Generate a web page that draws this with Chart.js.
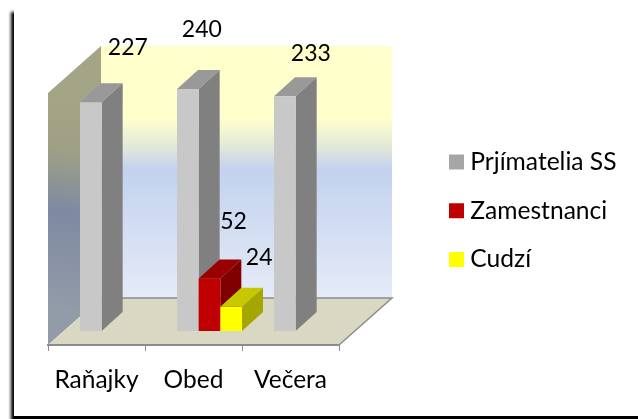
<!DOCTYPE html>
<html>
<head>
<meta charset="utf-8">
<script src="https://cdn.jsdelivr.net/npm/chart.js@4"></script>
<style>
html,body{margin:0;padding:0;background:#fff;width:638px;height:419px;overflow:hidden}
#frame{position:absolute;left:14px;top:6px;width:700px;height:410px;background:#fff;box-shadow:-3px 6px 3px #000}
#wrap{position:absolute;left:0;top:0;width:638px;height:419px}
canvas{display:block}
</style>
</head>
<body>
<div id="frame"></div>
<div id="wrap"><canvas id="c" width="638" height="419"></canvas></div>
<script>
const categories = ['Raňajky', 'Obed', 'Večera'];
const seriesNames = ['Prjímatelia SS', 'Zamestnanci', 'Cudzí'];
const prijimatelia = [227, 240, 233];
const zamestnanci = [null, 52, null];
const cudzi = [null, 24, null];

const frontColors = ['#C8C8C8', '#C00000', '#FFFF00'];
const sideColors = ['#808080', '#7F0000', '#A6A600'];
const topColors = ['#999999', '#990000', '#C8C800'];
const legendColors = ['#A6A6A6', '#C00000', '#FFFF00'];

const FONT = 'Lato, Carlito, sans-serif';
const labelNudges = [[[53, -69], [30, -74], [42, -57]], [null, [40, -71], null], [null, [44, -63], null]];
const wallDepth = [53, -47];
const barShift = [16, -14];
const barDepth = [21, -19];

function poly(ctx, pts, fill) {
  ctx.beginPath();
  pts.forEach((p, i) => i ? ctx.lineTo(p[0], p[1]) : ctx.moveTo(p[0], p[1]));
  ctx.closePath();
  ctx.fillStyle = fill;
  ctx.fill();
}

const scene = {
  id: 'scene',
  beforeDraw(chart) {
    const {ctx, chartArea: a} = chart;
    const [dx, dy] = wallDepth;
    ctx.save();
    const back = ctx.createLinearGradient(0, a.top + dy, 0, a.bottom + dy);
    back.addColorStop(0, '#FFFFCC');
    back.addColorStop(0.29, '#FFFFCC');
    back.addColorStop(0.4, '#E2E8D8');
    back.addColorStop(0.49, '#C2D2EE');
    back.addColorStop(1, '#E5EBF7');
    poly(ctx, [[a.left + dx, a.top + dy], [a.right + dx, a.top + dy], [a.right + dx, a.bottom + dy], [a.left + dx, a.bottom + dy]], back);
    const side = ctx.createLinearGradient(a.left + 42, a.top, a.left + 12, a.bottom - 35);
    side.addColorStop(0, '#A4A486');
    side.addColorStop(0.27, '#A0A085');
    side.addColorStop(0.55, '#7E8AA2');
    side.addColorStop(1, '#929BA8');
    poly(ctx, [[a.left, a.top], [a.left + dx, a.top + dy], [a.left + dx, a.bottom + dy], [a.left, a.bottom]], side);
    poly(ctx, [[a.left, a.bottom], [a.right, a.bottom], [a.right + dx, a.bottom + dy], [a.left + dx, a.bottom + dy]], '#D9D9C3');
    ctx.strokeStyle = '#8C8C8C';
    ctx.lineWidth = 1.5;
    ctx.beginPath();
    ctx.moveTo(a.left + dx, a.bottom + dy);
    ctx.lineTo(a.right + dx, a.bottom + dy);
    ctx.lineTo(a.right, a.bottom);
    ctx.stroke();
    ctx.restore();
  },
  beforeDatasetsDraw(chart) {
    const {ctx} = chart;
    const [dx, dy] = barDepth;
    ctx.save();
    ctx.translate(barShift[0], barShift[1]);
    chart.data.datasets.forEach((ds, di) => {
      const meta = chart.getDatasetMeta(di);
      meta.data.forEach((bar, i) => {
        if (ds.data[i] === null) return;
        const p = bar.getProps(['x', 'y', 'base', 'width'], true);
        const l = p.x - p.width / 2, r = p.x + p.width / 2;
        poly(ctx, [[l, p.y], [r, p.y], [r + dx, p.y + dy], [l + dx, p.y + dy]], topColors[di]);
        poly(ctx, [[r, p.y], [r + dx, p.y + dy], [r + dx, p.base + dy], [r, p.base]], sideColors[di]);
      });
      meta.controller.draw();
    });
    ctx.restore();
    return false;
  },
  afterLayout(chart) {
    chart.legend.left = 430.9;
    chart.legend.top = 125.6;
    chart.legend.right = 638;
    chart.legend.bottom = 400;
  },
  afterDraw(chart) {
    const {ctx} = chart;
    ctx.save();
    ctx.font = '23px ' + FONT;
    ctx.fillStyle = '#000';
    ctx.textAlign = 'center';
    ctx.textBaseline = 'middle';
    chart.data.datasets.forEach((ds, di) => {
      chart.getDatasetMeta(di).data.forEach((bar, i) => {
        if (ds.data[i] === null) return;
        const p = bar.getProps(['x', 'y'], true);
        const n = labelNudges[di][i];
        ctx.fillText(String(ds.data[i]), p.x + n[0], p.y + n[1]);
      });
    });
    ctx.restore();
  }
};

new Chart(document.getElementById('c'), {
  type: 'bar',
  data: {
    labels: categories,
    datasets: [
      {label: seriesNames[0], data: prijimatelia, backgroundColor: frontColors[0]},
      {label: seriesNames[1], data: zamestnanci, backgroundColor: frontColors[1]},
      {label: seriesNames[2], data: cudzi, backgroundColor: frontColors[2]}
    ]
  },
  plugins: [scene],
  options: {
    responsive: false,
    animation: false,
    events: [],
    categoryPercentage: 0.67,
    barPercentage: 1,
    layout: {padding: {left: 48, right: 299, top: 93, bottom: 0}},
    scales: {
      y: {display: false, min: 0, max: 250},
      x: {
        afterFit(s) { s.height = 74; },
        border: {color: '#8C8C8C', width: 2},
        grid: {display: true, drawOnChartArea: false, drawTicks: true, tickLength: 6, tickColor: '#8C8C8C', tickWidth: 1, offset: true},
        ticks: {color: '#000', padding: 14, maxRotation: 0, font: {family: FONT, size: 24.5}}
      }
    },
    plugins: {
      title: {display: false},
      tooltip: {enabled: false},
      legend: {
        display: true,
        position: 'chartArea',
        align: 'start',
        labels: {
          boxWidth: 3,
          boxHeight: 3,
          padding: 24.1,
          color: '#000',
          font: {family: FONT, size: 24.6},
          generateLabels() {
            return seriesNames.map((t, i) => ({
              text: t, fillStyle: legendColors[i], strokeStyle: legendColors[i],
              lineWidth: 12, hidden: false, datasetIndex: i
            }));
          }
        }
      }
    }
  }
});
</script>
</body>
</html>
